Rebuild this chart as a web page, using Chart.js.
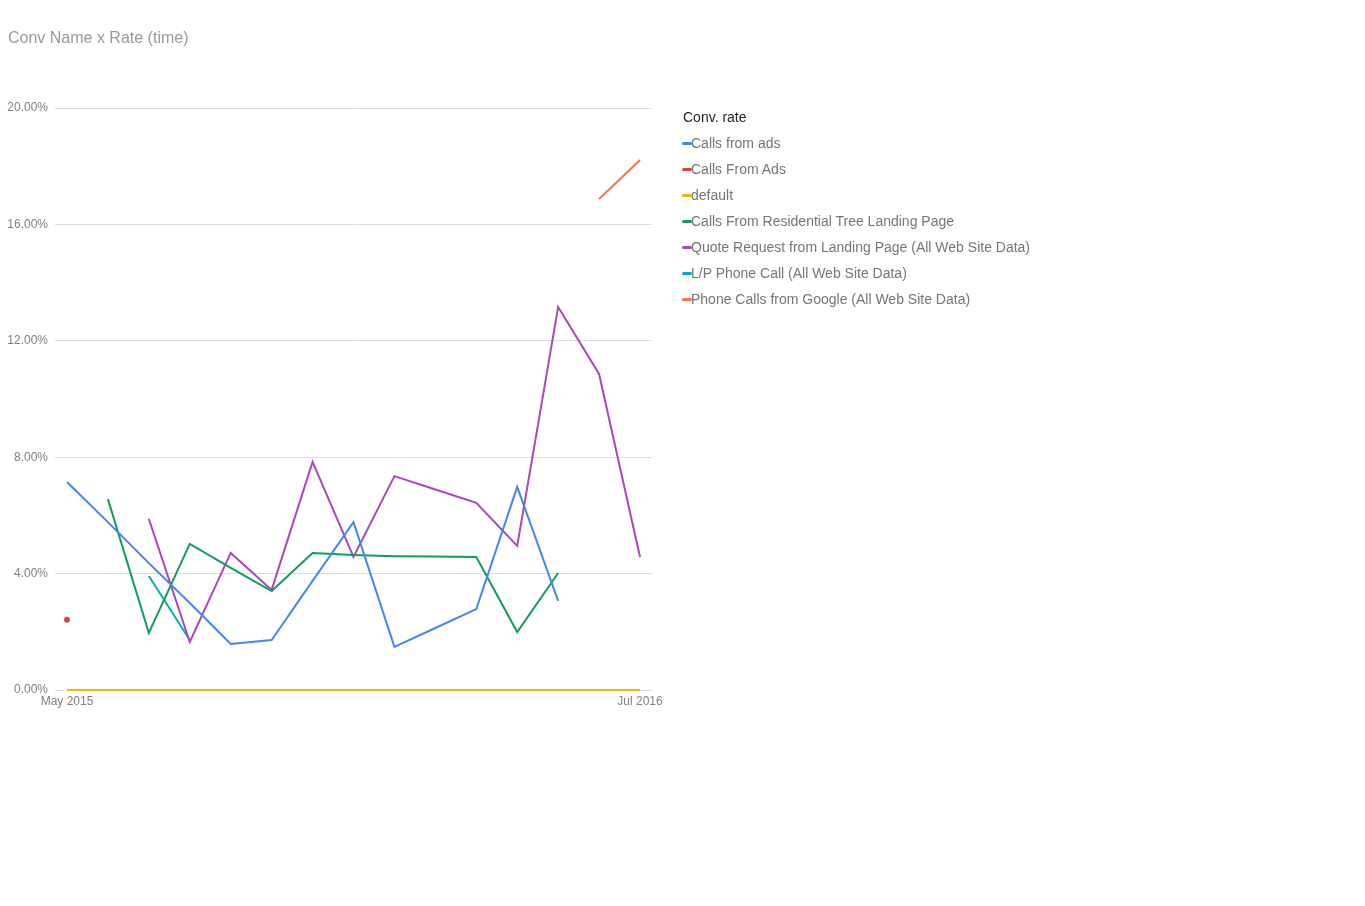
<!DOCTYPE html>
<html>
<head>
<meta charset="utf-8">
<script src="https://cdn.jsdelivr.net/npm/chart.js@4/dist/chart.umd.min.js"></script>
<style>
  body { margin: 0; background: #fff; font-family: "Liberation Sans", Arial, sans-serif; }
  #wrap { position: relative; width: 1365px; height: 906px; }
  #title { position: absolute; left: 8px; top: 29px; font-size: 16px; color: #999; }
  #legend { position: absolute; left: 682px; top: 107px; font-size: 14px; }
  #legend .head { color: #222; height: 26px; line-height: 20px; padding-left: 1px; }
  #legend .item { color: #757575; height: 26px; line-height: 20px; white-space: nowrap; }
  #legend .mark { display: inline-block; width: 10px; height: 3px; border-radius: 2px; vertical-align: middle; margin-right: -1px; position: relative; top: -1px; }
</style>
</head>
<body>
<div id="wrap">
  <canvas id="myChart"></canvas>
  <div id="title">Conv Name x Rate (time)</div>
  <div id="legend"></div>
</div>
<script>
'use strict';

// months on the x axis, only first and last get a label
var months = ['May 2015', 'Jun 2015', 'Jul 2015', 'Aug 2015', 'Sep 2015', 'Oct 2015', 'Nov 2015',
  'Dec 2015', 'Jan 2016', 'Feb 2016', 'Mar 2016', 'Apr 2016', 'May 2016', 'Jun 2016', 'Jul 2016'];

var seriesNames = ['Calls from ads', 'Calls From Ads', 'default', 'Calls From Residential Tree Landing Page',
  'Quote Request from Landing Page (All Web Site Data)', 'L/P Phone Call (All Web Site Data)',
  'Phone Calls from Google (All Web Site Data)'];

var seriesColors = ['#4285f4', '#db4437', '#f4b400', '#0f9d58', '#ab47bc', '#00acc1', '#ff7043'];

// conv. rate in percent
var callsFromAds = [7.15, 5.77, 4.36, 2.99, 1.58, 1.72, 3.75, 5.77, 1.48, 2.13, 2.78, 6.98, 3.06, null, null];
var callsFromAdsCap = [2.41, null, null, null, null, null, null, null, null, null, null, null, null, null, null];
var defaultRate = [0, 0, 0, 0, 0, 0, 0, 0, 0, 0, 0, 0, 0, 0, 0];
var residentialTree = [null, 6.56, 1.96, 5.02, 4.2, 3.40, 4.71, 4.64, 4.6, 4.59, 4.57, 1.99, 4.02, null, null];
var quoteRequest = [null, null, 5.88, 1.65, 4.71, 3.44, 7.84, 4.57, 7.35, 6.89, 6.43, 4.95, 13.16, 10.86, 4.57];
var lpPhoneCall = [null, null, 3.92, 1.72, null, null, null, null, null, null, null, null, null, null, null];
var phoneCallsGoogle = [null, null, null, null, null, null, null, null, null, null, null, null, null, 16.87, 18.21];

var allSeries = [callsFromAds, callsFromAdsCap, defaultRate, residentialTree, quoteRequest, lpPhoneCall, phoneCallsGoogle];

var yTicks = [0, 4, 8, 12, 16, 20];

function toPoints(arr) {
  var pts = [];
  for (var i = 0; i < arr.length; i++) {
    pts.push({ x: i, y: arr[i] });
  }
  return pts;
}

var datasets = [];
for (var i = 0; i < allSeries.length; i++) {
  datasets.push({
    label: seriesNames[i],
    data: toPoints(allSeries[i]),
    borderColor: seriesColors[i],
    backgroundColor: seriesColors[i],
    borderWidth: 2,
    pointRadius: i === 1 ? 2 : 0,
    pointHoverRadius: 0,
    tension: 0,
    spanGaps: false,
    clip: false
  });
}

// legend built by hand, google style
var legend = document.getElementById('legend');
var html = '<div class="head">Conv. rate</div>';
for (var j = 0; j < seriesNames.length; j++) {
  html += '<div class="item"><span class="mark" style="background:' + seriesColors[j] + '"></span>' + seriesNames[j] + '</div>';
}
legend.innerHTML = html;

var ctx = document.getElementById('myChart').getContext('2d');
var pad = 0.293;
var axisFont = { family: '"Liberation Sans", Arial, sans-serif', size: 12 };

var myChart = new Chart(ctx, {
  type: 'line',
  data: { datasets: datasets },
  options: {
    responsive: true,
    maintainAspectRatio: false,
    animation: false,
    layout: { padding: { top: 108, right: 713, left: 0, bottom: 0 } },
    plugins: { legend: { display: false }, tooltip: { enabled: false } },
    scales: {
      x: {
        type: 'linear',
        min: -pad,
        max: months.length - 1 + pad,
        afterBuildTicks: function (scale) {
          scale.ticks = [{ value: 0 }, { value: months.length - 1 }];
        },
        afterFit: function (scale) { scale.height = 216; },
        grid: { display: false, drawTicks: false },
        border: { display: false },
        ticks: {
          autoSkip: false,
          maxRotation: 0,
          padding: 4,
          color: '#808080',
          font: axisFont,
          callback: function (v) { return months[v]; }
        }
      },
      y: {
        min: 0,
        max: 20,
        afterBuildTicks: function (scale) {
          scale.ticks = yTicks.map(function (v) { return { value: v }; });
        },
        afterFit: function (scale) { scale.width = 55; },
        grid: { color: '#dcdcdc', drawTicks: false },
        border: { display: false },
        ticks: {
          padding: 7,
          color: '#808080',
          font: axisFont,
          callback: function (v) { return v.toFixed(2) + '%'; }
        }
      }
    }
  }
});
</script>
</body>
</html>
